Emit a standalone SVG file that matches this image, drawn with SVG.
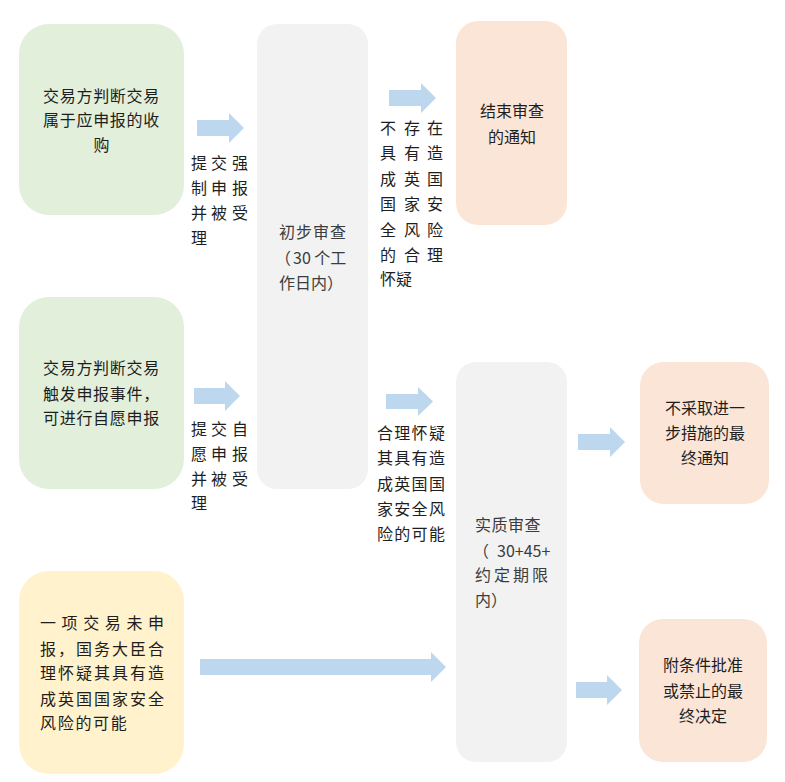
<svg xmlns="http://www.w3.org/2000/svg" width="785" height="782" viewBox="0 0 785 782">
<style>
text{font-family:"Noto Sans CJK SC","Liberation Sans",sans-serif;font-size:16px;fill:#1e1e1e}
.c{text-anchor:middle}
.g{fill:#3c3c3c}
.green{fill:#E2EFDA}
.gray{fill:#F2F2F2}
.peach{fill:#FBE5D6}
.yellow{fill:#FFF2CC}
.arr{fill:#BDD7EE}
</style>
<rect width="785" height="782" fill="#fff"/>
<g id="connectors">
<polygon class="arr" points="197,120 229,120 229,113 244,128 229,143 229,136 197,136"/>
<polygon class="arr" points="389,90 421,90 421,83 436,98 421,113 421,106 389,106"/>
<polygon class="arr" points="194,388 225,388 225,381 240,396 225,411 225,404 194,404"/>
<polygon class="arr" points="386,394 418,394 418,387 433,401.5 418,416 418,409 386,409"/>
<polygon class="arr" points="578,434 610,434 610,427 625,442 610,457 610,450 578,450"/>
<polygon class="arr" points="200,659 431,659 431,652 446,667 431,682 431,675 200,675"/>
<polygon class="arr" points="576,682 607,682 607,675 622,690 607,705 607,698 576,698"/>
</g>
<g id="lbl1">
<text x="191 211 232" y="169">提交强</text>
<text x="191 211 232" y="194">制申报</text>
<text x="191 211 232" y="219">并被受</text>
<text x="191" y="244">理</text>
</g>
<g id="lbl2">
<text x="191 211 232" y="435">提交自</text>
<text x="191 211 232" y="460">愿申报</text>
<text x="191 211 232" y="485">并被受</text>
<text x="191" y="509">理</text>
</g>
<g id="lbl3">
<text x="380 404 427" y="134">不存在</text>
<text x="380 404 427" y="159">具有造</text>
<text x="380 404 427" y="185">成英国</text>
<text x="380 404 427" y="210">国家安</text>
<text x="380 404 427" y="236">全风险</text>
<text x="380 404 427" y="261">的合理</text>
<text x="380" y="285">怀疑</text>
</g>
<g id="lbl4" style="letter-spacing:1.3px">
<text x="377" y="439">合理怀疑</text>
<text x="377" y="464">其具有造</text>
<text x="377" y="490">成英国国</text>
<text x="377" y="515">家安全风</text>
<text x="377" y="540">险的可能</text>
</g>
<g id="n1">
<rect class="green" x="19" y="24" width="165" height="191" rx="30"/>
<text class="c" x="101.5" y="102" style="letter-spacing:0.7px">交易方判断交易</text>
<text class="c" x="101.5" y="126" style="letter-spacing:0.7px">属于应申报的收</text>
<text class="c" x="101.5" y="151">购</text>
</g>
<g id="n2">
<rect class="green" x="19" y="297" width="165" height="192" rx="30"/>
<text x="43" y="374" style="letter-spacing:0.7px">交易方判断交易</text>
<text x="43" y="400" style="letter-spacing:0.7px">触发申报事件，</text>
<text x="43" y="424" style="letter-spacing:0.7px">可进行自愿申报</text>
</g>
<g id="n3">
<rect class="yellow" x="19" y="571" width="165" height="203" rx="30"/>
<text x="40" y="629" textLength="124" lengthAdjust="spacing">一项交易未申</text>
<text x="40" y="655" textLength="124" lengthAdjust="spacing">报，国务大臣合</text>
<text x="40" y="679" textLength="124" lengthAdjust="spacing">理怀疑其具有造</text>
<text x="40" y="705" textLength="124" lengthAdjust="spacing">成英国国家安全</text>
<text x="40" y="729" style="letter-spacing:1.7px">风险的可能</text>
</g>
<g id="n4">
<rect class="gray" x="257" y="24" width="111" height="465" rx="20"/>
<text class="g" x="279" y="238" style="letter-spacing:1px">初步审查</text>
<text class="g" x="275" y="264">（<tspan x="293">30 个工</tspan></text>
<text class="g" x="279" y="289">作日内）</text>
</g>
<g id="n5">
<rect class="peach" x="456" y="21" width="111" height="204" rx="22"/>
<text class="c" x="512" y="117">结束审查</text>
<text class="c" x="512" y="143">的通知</text>
</g>
<g id="n6">
<rect class="gray" x="456" y="362" width="111" height="400" rx="20"/>
<text class="g" x="475" y="531" style="letter-spacing:0.5px">实质审查</text>
<text class="g" x="473" y="557">（<tspan x="497">30+45+</tspan></text>
<text class="g" x="475" y="581" textLength="73" lengthAdjust="spacing">约定期限</text>
<text class="g" x="475" y="606">内）</text>
</g>
<g id="n7">
<rect class="peach" x="640" y="362" width="129" height="142" rx="24"/>
<text class="c" x="705" y="414">不采取进一</text>
<text class="c" x="705" y="439">步措施的最</text>
<text class="c" x="705" y="464">终通知</text>
</g>
<g id="n8">
<rect class="peach" x="639" y="619" width="128" height="143" rx="24"/>
<text class="c" x="703" y="671">附条件批准</text>
<text class="c" x="703" y="697">或禁止的最</text>
<text class="c" x="703" y="722">终决定</text>
</g>
</svg>
